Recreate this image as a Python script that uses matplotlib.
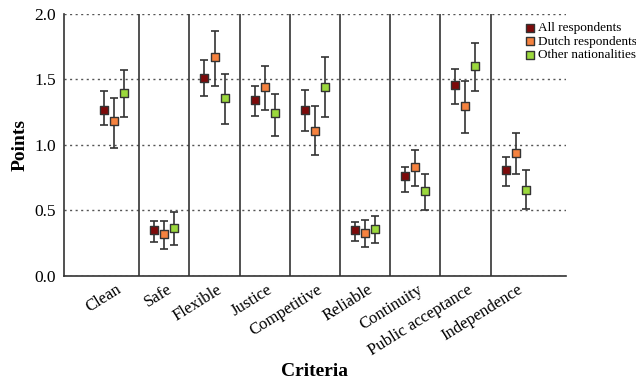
import matplotlib
matplotlib.use("Agg")
import matplotlib.pyplot as plt
import numpy as np

criteria = ["Clean", "Safe", "Flexible", "Justice", "Competitive",
            "Reliable", "Continuity", "Public acceptance", "Independence"]
series = ["All respondents", "Dutch respondents", "Other nationalities"]

# mean, lower bound, upper bound per series
all_mean = [1.27, 0.35, 1.51, 1.34, 1.27, 0.35, 0.76, 1.46, 0.81]
all_low = [1.15, 0.26, 1.37, 1.22, 1.11, 0.27, 0.64, 1.31, 0.69]
all_high = [1.41, 0.42, 1.65, 1.45, 1.42, 0.41, 0.83, 1.58, 0.91]

dutch_mean = [1.18, 0.32, 1.67, 1.44, 1.11, 0.33, 0.83, 1.30, 0.94]
dutch_low = [0.98, 0.21, 1.45, 1.27, 0.92, 0.22, 0.69, 1.09, 0.78]
dutch_high = [1.36, 0.42, 1.87, 1.60, 1.30, 0.43, 0.96, 1.49, 1.09]

other_mean = [1.40, 0.37, 1.36, 1.24, 1.44, 0.36, 0.65, 1.60, 0.66]
other_low = [1.21, 0.24, 1.16, 1.07, 1.21, 0.25, 0.50, 1.41, 0.51]
other_high = [1.57, 0.49, 1.54, 1.39, 1.67, 0.46, 0.78, 1.78, 0.81]

colors = ["#7d0a0a", "#f5823f", "#9bd83c"]

plt.rcParams["font.family"] = ["Liberation Serif", "DejaVu Serif"]

fig = plt.figure(figsize=(6.36, 3.85), dpi=100)
ax = fig.add_axes([0.1006, 0.283, 0.789, 0.681])

x = np.arange(len(criteria))
groups = [(all_mean, all_low, all_high),
          (dutch_mean, dutch_low, dutch_high),
          (other_mean, other_low, other_high)]
offsets = [-0.2, 0.0, 0.2]

for (m, lo, hi), off, col, name in zip(groups, offsets, colors, series):
    m = np.array(m)
    yerr = [m - np.array(lo), np.array(hi) - m]
    ax.errorbar(x + off, m, yerr=yerr, fmt="none", ecolor="#333333",
                elinewidth=1.2, capsize=2.6, capthick=1.2, zorder=3)
    ax.scatter(x + off, m, marker="s", s=36, color=col, edgecolor="#333333",
               linewidth=1.0, zorder=4, label=name)

for sep in x[:-1] + 0.5:
    ax.axvline(sep, color="#333333", linewidth=1.2, zorder=2)

ax.set_xlim(-1, 9)
ax.set_ylim(0, 2.0)
ax.set_yticks([0.0, 0.5, 1.0, 1.5, 2.0])
ax.set_yticklabels(["0.0", "0.5", "1.0", "1.5", "2.0"], fontsize=12.5)
ax.yaxis.grid(True, linestyle=(0, (1.5, 2.5)), color="#555555", linewidth=1.0)
ax.set_axisbelow(True)
ax.set_xticks(x + 0.04)
ax.set_xticklabels(criteria, rotation=32, ha="right", rotation_mode="anchor",
                   fontsize=12)
ax.tick_params(axis="x", length=0, pad=4)
ax.tick_params(axis="y", length=0, pad=6)

for s in ["top", "right"]:
    ax.spines[s].set_visible(False)
for s in ["left", "bottom"]:
    ax.spines[s].set_color("#333333")
    ax.spines[s].set_linewidth(1.2)

ax.set_ylabel("Points", fontsize=14, fontweight="bold", labelpad=4)
ax.set_xlabel("Criteria", fontsize=14, fontweight="bold", labelpad=3)

leg = ax.legend(loc="upper left", bbox_to_anchor=(0.905, 0.99), frameon=False,
                fontsize=9.5, handletextpad=0.1, labelspacing=0.1,
                borderaxespad=0, handlelength=1.0, markerscale=0.9)

fig.savefig("out.png", dpi=100)
